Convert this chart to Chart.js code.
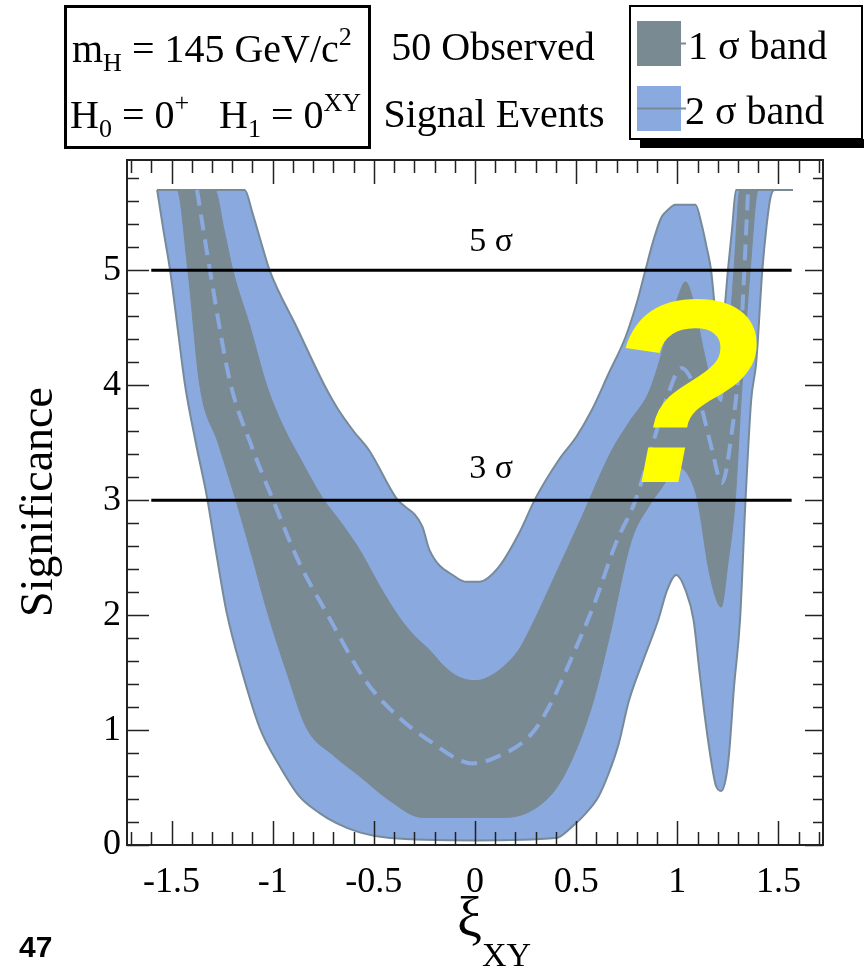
<!DOCTYPE html>
<html>
<head>
<meta charset="utf-8">
<script src="https://cdn.jsdelivr.net/npm/chart.js@4.4.0/dist/chart.umd.min.js"></script>
<style>
  html, body { margin: 0; padding: 0; background: #fff; }
</style>
</head>
<body>
<canvas id="chart" width="864" height="972"></canvas>
<script>
// significance bands vs xi_XY (capped at 5.7)
const upper2Sigma = [
  [-1.571, 5.7], [-1.138, 5.7], [-1.10, 5.5], [-1.05, 5.2], [-1.015, 5.0], [-0.88, 4.5],
  [-0.744, 4.0], [-0.68, 3.8], [-0.60, 3.6], [-0.522, 3.43], [-0.39, 3.02], [-0.26, 2.77],
  [-0.226, 2.57], [-0.094, 2.33], [-0.04, 2.29], [0.02, 2.29], [0.118, 2.42], [0.217, 2.71],
  [0.30, 3.02], [0.414, 3.35], [0.50, 3.55], [0.576, 3.78], [0.66, 4.1], [0.744, 4.42],
  [0.80, 4.72], [0.842, 5.0], [0.88, 5.25], [0.921, 5.46], [0.95, 5.52], [0.99, 5.57],
  [1.09, 5.57], [1.12, 5.4], [1.145, 5.2], [1.167, 5.0], [1.19, 4.6], [1.21, 4.4],
  [1.23, 4.6], [1.25, 5.0], [1.27, 5.35], [1.29, 5.7], [1.571, 5.7]
];
const lower2Sigma = [
  [-1.571, 5.7], [-1.54, 5.35], [-1.507, 5.0], [-1.47, 4.5], [-1.433, 4.0], [-1.38, 3.5],
  [-1.325, 3.03], [-1.28, 2.55], [-1.227, 2.02], [-1.15, 1.5], [-1.064, 1.02], [-0.97, 0.7],
  [-0.867, 0.42], [-0.77, 0.28], [-0.685, 0.19], [-0.571, 0.11], [-0.42, 0.06], [0.0, 0.04],
  [0.40, 0.06], [0.48, 0.16], [0.55, 0.28], [0.61, 0.42], [0.66, 0.62], [0.71, 0.88],
  [0.76, 1.25], [0.83, 1.6], [0.906, 1.96], [0.95, 2.22], [0.995, 2.35], [1.04, 2.22],
  [1.08, 1.96], [1.11, 1.5], [1.138, 1.09], [1.17, 0.7], [1.19, 0.52], [1.217, 0.47],
  [1.24, 0.58], [1.256, 0.8], [1.28, 1.37], [1.31, 1.96], [1.337, 3.0], [1.365, 3.87],
  [1.39, 4.2], [1.42, 5.0], [1.44, 5.37], [1.46, 5.63], [1.48, 5.7], [1.571, 5.7]
];
const upper1Sigma = [
  [-1.571, 5.7], [-1.286, 5.7], [-1.24, 5.35], [-1.197, 5.0], [-1.11, 4.5], [-1.03, 4.0],
  [-0.95, 3.65], [-0.86, 3.35], [-0.754, 3.02], [-0.66, 2.8], [-0.571, 2.57], [-0.47, 2.25],
  [-0.374, 1.98], [-0.30, 1.82], [-0.227, 1.7], [-0.15, 1.55], [-0.079, 1.46], [0.0, 1.43],
  [0.054, 1.45], [0.14, 1.55], [0.217, 1.7], [0.30, 1.98], [0.379, 2.28], [0.527, 2.85],
  [0.675, 3.43], [0.77, 3.7], [0.857, 3.93], [0.91, 4.2], [0.956, 4.5], [1.0, 4.75],
  [1.04, 4.9], [1.09, 4.65], [1.13, 4.3], [1.18, 3.95], [1.22, 3.85], [1.25, 4.3],
  [1.28, 5.0], [1.31, 5.7], [1.571, 5.7]
];
const lower1Sigma = [
  [-1.571, 5.7], [-1.473, 5.7], [-1.419, 5.0], [-1.36, 4.0], [-1.27, 3.5], [-1.187, 3.03],
  [-1.10, 2.5], [-1.025, 2.02], [-0.93, 1.5], [-0.833, 1.02], [-0.70, 0.78], [-0.571, 0.6],
  [-0.424, 0.39], [-0.26, 0.24], [0.15, 0.24], [0.35, 0.39], [0.448, 0.63], [0.576, 1.2],
  [0.66, 1.78], [0.773, 2.65], [0.86, 2.95], [0.92, 3.1], [1.005, 3.29], [1.06, 3.2],
  [1.10, 3.0], [1.153, 2.42], [1.19, 2.15], [1.217, 2.07], [1.25, 2.45], [1.286, 3.0],
  [1.315, 3.87], [1.36, 5.0], [1.40, 5.7], [1.571, 5.7]
];
const medianSignif = [
  [-1.374, 5.7], [-1.31, 5.0], [-1.212, 4.04], [-1.10, 3.45], [-1.005, 3.03], [-0.867, 2.45],
  [-0.734, 2.02], [-0.537, 1.42], [-0.37, 1.1], [-0.212, 0.89], [-0.10, 0.76], [-0.015, 0.71],
  [0.10, 0.76], [0.281, 0.97], [0.38, 1.25], [0.478, 1.63], [0.59, 2.1], [0.695, 2.62],
  [0.793, 3.0], [0.88, 3.5], [0.95, 3.9], [1.02, 4.15], [1.07, 4.05], [1.12, 3.8],
  [1.17, 3.45], [1.22, 3.15], [1.27, 3.6], [1.31, 4.3], [1.35, 5.7]
];
const sigmaLevels = [5, 3];
const levelLineX = [-1.6, 1.565];
const xTickValues = [-1.5, -1, -0.5, 0, 0.5, 1, 1.5];
const yTickValues = [0, 1, 2, 3, 4, 5];

const bandBlue = '#8aa9de';
const bandGrey = '#7a8a93';
const edgeGrey = '#768a99';
const serif = "'Liberation Serif', 'DejaVu Serif', serif";

const toPts = arr => arr.map(([x, y]) => ({ x, y }));

// draws a string made of pieces with sub/superscripts
function richText(ctx, parts, x, y) {
  let cx = x;
  for (const p of parts) {
    ctx.font = `${p.s}px ${serif}`;
    ctx.fillText(p.t, cx, y + (p.dy || 0));
    cx += ctx.measureText(p.t).width;
  }
}

const rootFrame = {
  id: 'rootFrame',
  afterDatasetsDraw(chart) {
    const { ctx, chartArea: a, scales: { x, y } } = chart;
    ctx.save();
    ctx.strokeStyle = '#222';
    ctx.lineWidth = 1.5;
    ctx.beginPath();
    for (let i = -17; i <= 17; i++) {
      const px = Math.round(x.getPixelForValue(i / 10)) + 0.5;
      const big = i % 5 === 0;
      ctx.moveTo(px, a.bottom); ctx.lineTo(px, a.bottom - (big ? 24 : 13));
      ctx.moveTo(px, a.top); ctx.lineTo(px, a.top + (big ? 24 : 13));
    }
    for (let i = 0; i <= 29; i++) {
      const py = Math.round(y.getPixelForValue(i / 5)) + 0.5;
      const big = i % 5 === 0;
      ctx.moveTo(a.left, py); ctx.lineTo(a.left + (big ? 22 : 12), py);
      ctx.moveTo(a.right, py); ctx.lineTo(a.right - (big ? 18 : 10), py);
    }
    ctx.stroke();
    ctx.lineWidth = 2;
    ctx.strokeRect(a.left, a.top, a.right - a.left, a.bottom - a.top);

    // level labels
    ctx.fillStyle = '#000';
    ctx.font = `34px ${serif}`;
    ctx.textAlign = 'center';
    ctx.fillText('5 σ', x.getPixelForValue(0.08), y.getPixelForValue(5.17));
    ctx.fillText('3 σ', x.getPixelForValue(0.08), y.getPixelForValue(3.19));
    ctx.restore();
  },
  afterDraw(chart) {
    const { ctx } = chart;
    ctx.save();
    ctx.fillStyle = '#000';
    ctx.textAlign = 'left';
    ctx.textBaseline = 'alphabetic';

    // axis titles
    ctx.save();
    ctx.translate(52, 502);
    ctx.rotate(-Math.PI / 2);
    ctx.font = `46px ${serif}`;
    ctx.textAlign = 'center';
    ctx.fillText('Significance', 0, 0);
    ctx.restore();
    richText(ctx, [{ t: 'ξ', s: 56 }, { t: 'XY', s: 34, dy: 30 }], 457, 936);

    // info box
    ctx.strokeStyle = '#000';
    ctx.lineWidth = 3;
    ctx.strokeRect(65.5, 6.5, 304, 141);
    richText(ctx, [{ t: 'm', s: 40 }, { t: 'H', s: 26, dy: 9 }, { t: ' = 145 GeV/c', s: 40 }, { t: '2', s: 26, dy: -17 }], 72, 62);
    richText(ctx, [{ t: 'H', s: 40 }, { t: '0', s: 26, dy: 9 }, { t: ' = 0', s: 40 }, { t: '+', s: 26, dy: -17 },
      { t: '   H', s: 40 }, { t: '1', s: 26, dy: 9 }, { t: ' = 0', s: 40 }, { t: 'XY', s: 26, dy: -17 }], 70, 128);
    ctx.font = `40px ${serif}`;
    ctx.textAlign = 'center';
    ctx.fillText('50 Observed', 493, 60);
    ctx.fillText('Signal Events', 494, 127);

    // legend
    ctx.textAlign = 'left';
    ctx.fillRect(640, 139, 224, 9);
    ctx.fillStyle = '#fff';
    ctx.fillRect(630, 6, 232, 133);
    ctx.lineWidth = 2;
    ctx.strokeRect(630, 6, 232, 133);
    ctx.fillStyle = bandGrey;
    ctx.fillRect(637, 21, 44, 45);
    ctx.fillStyle = bandBlue;
    ctx.fillRect(637, 86, 44, 45);
    ctx.strokeStyle = edgeGrey;
    ctx.beginPath();
    ctx.moveTo(637, 108.5); ctx.lineTo(686, 108.5);
    ctx.moveTo(681, 43.5); ctx.lineTo(686, 43.5);
    ctx.stroke();
    ctx.fillStyle = '#000';
    ctx.font = `40px ${serif}`;
    ctx.fillText('1 σ band', 688, 59);
    ctx.fillText('2 σ band', 685, 124);

    // overlay question mark
    ctx.fillStyle = '#ffff00';
    ctx.font = "italic bold 262px 'Liberation Sans', Arial, sans-serif";
    ctx.textAlign = 'center';
    ctx.fillText('?', 682, 482);

    // slide number
    ctx.fillStyle = '#000';
    ctx.textAlign = 'left';
    ctx.font = "bold 30px 'Liberation Sans', 'DejaVu Sans', sans-serif";
    ctx.fillText('47', 19, 957);
    ctx.restore();
  }
};

const curve = { pointRadius: 0, cubicInterpolationMode: 'monotone' };

new Chart(document.getElementById('chart'), {
  type: 'line',
  data: {
    datasets: [
      { ...curve, label: '2 sigma up', data: toPts(upper2Sigma), fill: '+1', backgroundColor: bandBlue,
        borderColor: edgeGrey, borderWidth: 2, order: 6 },
      { ...curve, label: '2 sigma low', data: toPts(lower2Sigma), fill: false,
        borderColor: edgeGrey, borderWidth: 2, order: 5 },
      { ...curve, label: '1 sigma up', data: toPts(upper1Sigma), fill: '+1', backgroundColor: bandGrey,
        borderColor: bandGrey, borderWidth: 1, order: 4 },
      { ...curve, label: '1 sigma low', data: toPts(lower1Sigma), fill: false,
        borderColor: bandGrey, borderWidth: 1, order: 3 },
      { ...curve, label: 'median', data: toPts(medianSignif), fill: false,
        borderColor: bandBlue, borderWidth: 4, borderDash: [16, 9], order: 2 },
      ...sigmaLevels.map(lv => ({
        label: lv + ' sigma', data: levelLineX.map(x => ({ x, y: lv })), fill: false,
        pointRadius: 0, borderColor: '#000', borderWidth: 3, order: 1
      }))
    ]
  },
  options: {
    responsive: false,
    animation: false,
    layout: { padding: { top: 160, right: 41, left: 0, bottom: 0 } },
    plugins: { legend: { display: false }, tooltip: { enabled: false } },
    scales: {
      x: {
        type: 'linear', min: -1.72, max: 1.72,
        grid: { display: false, drawTicks: false },
        border: { display: false },
        afterBuildTicks: s => { s.ticks = xTickValues.map(v => ({ value: v })); },
        afterFit: s => { s.height = 127; },
        ticks: { color: '#000', padding: 16, font: { family: serif, size: 36 }, callback: v => String(v) }
      },
      y: {
        type: 'linear', min: 0, max: 5.96,
        grid: { display: false, drawTicks: false },
        border: { display: false },
        afterBuildTicks: s => { s.ticks = yTickValues.map(v => ({ value: v })); },
        afterFit: s => { s.width = 127; },
        ticks: { color: '#000', padding: 6, font: { family: serif, size: 36 }, callback: v => String(v) }
      }
    }
  },
  plugins: [rootFrame]
});
</script>
</body>
</html>
